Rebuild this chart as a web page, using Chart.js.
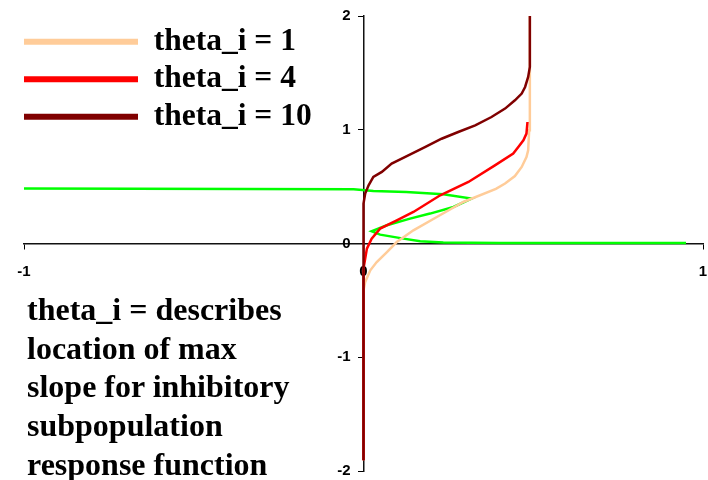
<!DOCTYPE html>
<html><head><meta charset="utf-8">
<script src="https://cdn.jsdelivr.net/npm/chart.js@4.4.1/dist/chart.umd.min.js"></script>
<style>
html,body{margin:0;padding:0;background:#fff;}
#wrap{position:relative;width:708px;height:480px;overflow:hidden;}
#note{position:absolute;left:27px;top:290px;font:bold 32px/38.7px "Liberation Serif","Times New Roman",serif;color:#000;white-space:nowrap;}
</style></head><body>
<div id="wrap"><canvas id="c" width="708" height="480"></canvas>
<div id="note">theta_i = describes<br>location of max<br>slope for inhibitory<br>subpopulation<br>response function</div></div>
<script>
// ---- data ----
const seriesNames = ['theta_i = 1', 'theta_i = 4', 'theta_i = 10'];
const xTicks = [-1, 0, 1];
const yTicks = [-2, -1, 0, 1, 2];

const theta1X = [0, 0, 0.005, 0.020, 0.039, 0.069, 0.098, 0.147, 0.216, 0.294, 0.390, 0.417, 0.446, 0.466, 0.480, 0.485, 0.488, 0.490, 0.490];
const theta1Y = [-1.906, -0.411, -0.338, -0.236, -0.163, -0.075, 0.013, 0.116, 0.233, 0.365, 0.481, 0.527, 0.593, 0.673, 0.760, 0.819, 0.995, 1.435, 2.0];

const theta4X = [0, 0, 0.005, 0.010, 0.024, 0.049, 0.098, 0.147, 0.226, 0.309, 0.387, 0.441, 0.456, 0.471, 0.480, 0.483];
const theta4Y = [-1.906, -0.221, -0.133, -0.045, 0.043, 0.131, 0.204, 0.277, 0.424, 0.541, 0.687, 0.790, 0.848, 0.907, 0.966, 1.068];

const theta10X = [0, 0, 0.005, 0.015, 0.029, 0.054, 0.083, 0.132, 0.181, 0.230, 0.279, 0.329, 0.377, 0.417, 0.446, 0.466, 0.476, 0.485, 0.490, 0.490];
const theta10Y = [-1.906, 0.351, 0.439, 0.512, 0.585, 0.629, 0.702, 0.775, 0.848, 0.921, 0.980, 1.039, 1.112, 1.186, 1.259, 1.318, 1.376, 1.464, 1.552, 2.0];

const greenX = [-1, -0.029, 0.029, 0.126, 0.235, 0.318, 0.265, 0.196, 0.137, 0.069, 0.024, 0.049, 0.118, 0.167, 0.235, 0.400, 0.950];
const greenY = [0.483, 0.476, 0.462, 0.453, 0.433, 0.395, 0.321, 0.263, 0.219, 0.160, 0.107, 0.078, 0.043, 0.019, 0.008, 0.004, 0.004];

const toPts = (xs, ys) => xs.map((x, i) => ({x: x, y: ys[i]}));

const colors = ['#FFCC99', '#FF0000', '#800000'];

const lineDs = (label, pts, color, order) => ({
  label: label, data: pts, borderColor: color, backgroundColor: color,
  borderWidth: 2.5, pointRadius: 0, showLine: true, tension: 0, fill: false,
  order: order, clip: false
});

const legendShift = {
  id: 'legendShift',
  afterLayout(chart) {
    if (chart.legend) { chart.legend.left = 18; chart.legend.top = 20; }
  }
};

const noPad = (s) => { s.paddingLeft = 0; s.paddingRight = 0; s.paddingTop = 0; s.paddingBottom = 0; };

new Chart(document.getElementById('c'), {
  type: 'scatter',
  data: {
    datasets: [
      lineDs('green', toPts(greenX, greenY), '#00FF00', 4),
      lineDs(seriesNames[0], toPts(theta1X, theta1Y), colors[0], 3),
      lineDs(seriesNames[1], toPts(theta4X, theta4Y), colors[1], 2),
      lineDs(seriesNames[2], toPts(theta10X, theta10Y), colors[2], 1)
    ]
  },
  options: {
    responsive: false,
    animation: false,
    layout: {padding: {left: 24, right: 5, top: 16, bottom: 9}},
    plugins: {
      tooltip: {enabled: false},
      legend: {
        position: 'chartArea',
        align: 'start',
        labels: {
          boxWidth: 114, boxHeight: 6, padding: 6, color: '#000',
          font: {family: '"Liberation Serif", "Times New Roman", serif', size: 31.5, weight: 'bold'},
          generateLabels: (chart) => seriesNames.map((n, i) => ({
            text: n, fillStyle: colors[i], strokeStyle: colors[i], lineWidth: 0,
            hidden: false, datasetIndex: i + 1
          }))
        }
      }
    },
    scales: {
      x: {
        type: 'linear', position: 'center', min: -1, max: 1,
        afterBuildTicks: (s) => { s.ticks = xTicks.map(v => ({value: v})); },
        afterFit: noPad,
        grid: {drawOnChartArea: false, drawTicks: true, tickLength: 5, color: '#000', lineWidth: 1},
        border: {display: true, color: '#111', width: 1.5},
        ticks: {color: '#000', padding: 14, maxRotation: 0, font: {family: '"Liberation Sans", Arial, sans-serif', size: 15, weight: 'bold'}}
      },
      y: {
        type: 'linear', position: 'center', min: -2, max: 2,
        afterBuildTicks: (s) => { s.ticks = yTicks.map(v => ({value: v})); },
        afterFit: noPad,
        grid: {drawOnChartArea: false, drawTicks: true, tickLength: 5, color: '#000', lineWidth: 1},
        border: {display: true, color: '#111', width: 1.5},
        ticks: {color: '#000', padding: 8, font: {family: '"Liberation Sans", Arial, sans-serif', size: 15, weight: 'bold'}}
      }
    }
  },
  plugins: [legendShift]
});
</script>
</body></html>
